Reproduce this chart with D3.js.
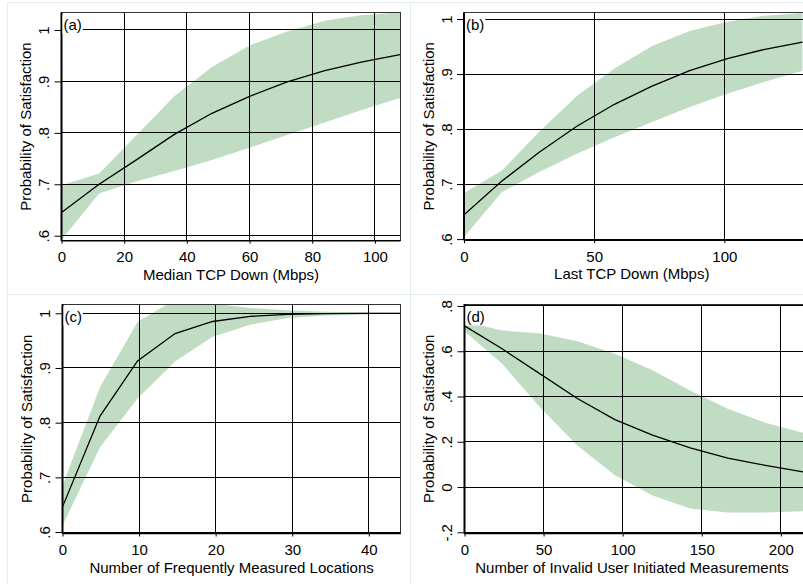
<!DOCTYPE html>
<html>
<head>
<meta charset="utf-8">
<script src="https://cdn.jsdelivr.net/npm/d3@7"></script>
<style>
  html, body { margin: 0; padding: 0; background: #fff; }
  svg { display: block; font-family: "Liberation Sans", Arial, sans-serif; }
</style>
</head>
<body>
<svg id="chart" width="803" height="584"></svg>
<script>
// ---- (a) Median TCP Down ----
const xA   = [0, 12, 24, 36, 48, 60, 72, 84, 96, 108];
const fitA = [0.645, 0.700, 0.748, 0.797, 0.838, 0.871, 0.899, 0.921, 0.938, 0.952];
const loA  = [0.592, 0.682, 0.706, 0.726, 0.747, 0.771, 0.796, 0.820, 0.845, 0.868];
const hiA  = [0.698, 0.721, 0.796, 0.871, 0.928, 0.970, 0.997, 1.018, 1.029, 1.034];
const xTicksA = [0, 20, 40, 60, 80, 100];
const yTicksA = [0.6, 0.7, 0.8, 0.9, 1];
const xRangeA = [0, 108];
const yRangeA = [0.5903, 1.0344];

// ---- (b) Last TCP Down ----
const xB   = [0, 14.44, 28.89, 43.33, 57.78, 72.22, 86.67, 101.11, 115.56, 130];
const fitB = [0.644, 0.705, 0.758, 0.805, 0.845, 0.878, 0.906, 0.928, 0.945, 0.958];
const loB  = [0.604, 0.685, 0.722, 0.755, 0.785, 0.813, 0.840, 0.864, 0.886, 0.906];
const hiB  = [0.684, 0.724, 0.795, 0.860, 0.910, 0.951, 0.978, 0.995, 1.006, 1.011];
const xTicksB = [0, 50, 100];
const yTicksB = [0.6, 0.7, 0.8, 0.9, 1];
const xRangeB = [0, 130.2];
const yRangeB = [0.598, 1.0122];

// ---- (c) Number of Frequently Measured Locations ----
const xC   = [0, 4.9, 9.8, 14.7, 19.6, 24.5, 29.4, 34.3, 39.2, 44.1];
const fitC = [0.646, 0.812, 0.913, 0.963, 0.985, 0.9945, 0.998, 0.9995, 1.0, 1.0];
const loC  = [0.612, 0.755, 0.844, 0.912, 0.957, 0.979, 0.9915, 0.996, 0.998, 0.999];
const hiC  = [0.685, 0.865, 0.984, 1.025, 1.018, 1.0095, 1.0055, 1.003, 1.0015, 1.001];
const xTicksC = [0, 10, 20, 30, 40];
const yTicksC = [0.6, 0.7, 0.8, 0.9, 1];
const xRangeC = [0, 44.1];
const yRangeC = [0.5973, 1.017];

// ---- (d) Number of Invalid User Initiated Measurements ----
const xD   = [0, 23.78, 47.56, 71.33, 95.11, 118.89, 142.67, 166.44, 190.22, 214];
const fitD = [0.712, 0.611, 0.501, 0.391, 0.298, 0.229, 0.173, 0.128, 0.096, 0.067];
const loD  = [0.688, 0.545, 0.354, 0.184, 0.052, -0.037, -0.095, -0.113, -0.113, -0.107];
const hiD  = [0.732, 0.692, 0.678, 0.644, 0.589, 0.516, 0.427, 0.346, 0.284, 0.240];
const xTicksD = [0, 50, 100, 150, 200];
const yTicksD = [-0.2, 0, 0.2, 0.4, 0.6, 0.8];
const xRangeD = [0, 214];
const yRangeD = [-0.2053, 0.8088];

// ---- text ----
const panelLabels = ["(a)", "(b)", "(c)", "(d)"];
const xTitles = [
  "Median TCP Down (Mbps)",
  "Last TCP Down (Mbps)",
  "Number of Frequently Measured Locations",
  "Number of Invalid User Initiated Measurements"
];
const yTitle = "Probability of Satisfaction";

// ---- styling ----
const BAND_FILL = "rgb(192,220,194)";
const FAINT = "rgb(228,237,237)";
const FONT_SIZE = 15;

// Plot-region boxes for the 2x2 grid (pixels)
const boxes = [
  { left: 61.5,  right: 400.5, top: 12.3, bottom: 240.7 },
  { left: 464,   right: 803.5, top: 12.3, bottom: 240.2 },
  { left: 62.5,  right: 400.7, top: 304,  bottom: 533.5 },
  { left: 464.5, right: 803.5, top: 304,  bottom: 533.5 }
];

const panels = [
  { x: xA, fit: fitA, lo: loA, hi: hiA, xt: xTicksA, yt: yTicksA, xr: xRangeA, yr: yRangeA },
  { x: xB, fit: fitB, lo: loB, hi: hiB, xt: xTicksB, yt: yTicksB, xr: xRangeB, yr: yRangeB },
  { x: xC, fit: fitC, lo: loC, hi: hiC, xt: xTicksC, yt: yTicksC, xr: xRangeC, yr: yRangeC },
  { x: xD, fit: fitD, lo: loD, hi: hiD, xt: xTicksD, yt: yTicksD, xr: xRangeD, yr: yRangeD }
];

// Stata-style numbers: ".6", "1", "-.2", "0"
const fmt = v => {
  const r = Math.round(v * 10) / 10;
  return r === 0 ? "0" : String(r).replace(/^(-?)0\./, "$1.");
};

const svg = d3.select("#chart");
svg.append("rect").attr("width", 803).attr("height", 584).attr("fill", "#fff");

// faint outlines separating the four graphs
const faint = svg.append("g").attr("stroke", FAINT).attr("stroke-width", 1);
[7.5, 410.5].forEach(xv => faint.append("line").attr("x1", xv).attr("x2", xv).attr("y1", 2.5).attr("y2", 584));
[2.5, 294.5].forEach(yv => faint.append("line").attr("x1", 7.5).attr("x2", 803).attr("y1", yv).attr("y2", yv));

const defs = svg.append("defs");

panels.forEach((p, i) => {
  const b = boxes[i];
  const x = d3.scaleLinear().domain(p.xr).range([b.left, b.right - 0.5]);
  const y = d3.scaleLinear().domain(p.yr).range([b.bottom, b.top]);
  const rows = p.x.map((xv, k) => ({ x: xv, fit: p.fit[k], lo: p.lo[k], hi: p.hi[k] }));

  const clipId = "clip" + i;
  defs.append("clipPath").attr("id", clipId)
    .append("rect")
    .attr("x", b.left).attr("y", b.top)
    .attr("width", b.right - b.left).attr("height", b.bottom - b.top);

  const g = svg.append("g");

  // confidence band
  g.append("path")
    .datum(rows)
    .attr("clip-path", `url(#${clipId})`)
    .attr("fill", BAND_FILL)
    .attr("d", d3.area().x(d => x(d.x)).y0(d => y(d.lo)).y1(d => y(d.hi)));

  // grid lines
  const grid = g.append("g").attr("stroke", "#000").attr("stroke-width", 1)
    .attr("shape-rendering", "crispEdges");
  p.yt.forEach(t => grid.append("line")
    .attr("x1", b.left).attr("x2", b.right).attr("y1", y(t)).attr("y2", y(t)));
  p.xt.forEach(t => grid.append("line")
    .attr("x1", x(t)).attr("x2", x(t)).attr("y1", b.top).attr("y2", b.bottom));

  // fitted probability
  g.append("path")
    .datum(rows)
    .attr("clip-path", `url(#${clipId})`)
    .attr("fill", "none")
    .attr("stroke", "#000")
    .attr("stroke-width", 1.3)
    .attr("d", d3.line().x(d => x(d.x)).y(d => y(d.fit)));

  // plot-region frame
  g.append("rect")
    .attr("x", b.left).attr("y", b.top)
    .attr("width", b.right - b.left).attr("height", b.bottom - b.top)
    .attr("fill", "none").attr("stroke", "#333").attr("stroke-width", 1)
    .attr("shape-rendering", "crispEdges");

  // y axis
  const yAxis = g.append("g").attr("transform", `translate(${b.left},0)`)
    .call(d3.axisLeft(y).tickValues(p.yt).tickSize(7).tickPadding(4).tickFormat(fmt));
  yAxis.select(".domain").attr("stroke", "#000").attr("stroke-width", 2)
    .attr("d", `M0,${b.top}V${b.bottom}`);
  yAxis.selectAll(".tick line").attr("stroke", "#000");
  yAxis.selectAll(".tick text")
    .attr("font-size", FONT_SIZE).attr("fill", "#000")
    .attr("text-anchor", "middle")
    .attr("x", null).attr("dy", null)
    .attr("transform", "translate(-17.5,0) rotate(-90)")
    .attr("dy", "0.35em");

  // x axis
  const xAxis = g.append("g").attr("transform", `translate(0,${b.bottom})`)
    .call(d3.axisBottom(x).tickValues(p.xt).tickSize(3).tickPadding(0).tickFormat(fmt));
  xAxis.select(".domain").attr("stroke", "#000").attr("stroke-width", 1.5)
    .attr("d", `M${b.left},0H${b.right}`);
  xAxis.selectAll(".tick line").attr("stroke", "#000");
  xAxis.selectAll(".tick text")
    .attr("font-size", FONT_SIZE).attr("fill", "#000")
    .attr("y", 21.5).attr("dy", null);

  // axis titles
  g.append("text")
    .attr("x", (b.left + b.right - (i % 2 ? 2 : 0)) / 2 + (i % 2 ? -1 : 0))
    .attr("y", b.bottom + 39)
    .attr("text-anchor", "middle")
    .attr("font-size", FONT_SIZE)
    .text(xTitles[i]);

  g.append("text")
    .attr("transform", `translate(${b.left - 35.5},${(b.top + b.bottom) / 2}) rotate(-90)`)
    .attr("text-anchor", "middle")
    .attr("dy", "0.35em")
    .attr("font-size", FONT_SIZE)
    .text(yTitle);

  // panel letter with white backing
  const lab = g.append("g").attr("transform", `translate(${b.left + 2},${b.top + 17.5})`);
  const txt = lab.append("text").attr("font-size", FONT_SIZE).text(panelLabels[i]);
  const bb = txt.node().getBBox();
  lab.insert("rect", "text")
    .attr("x", bb.x - 1).attr("y", bb.y - 1)
    .attr("width", bb.width + 2).attr("height", bb.height + 2)
    .attr("fill", "#fff");
});
</script>
</body>
</html>
